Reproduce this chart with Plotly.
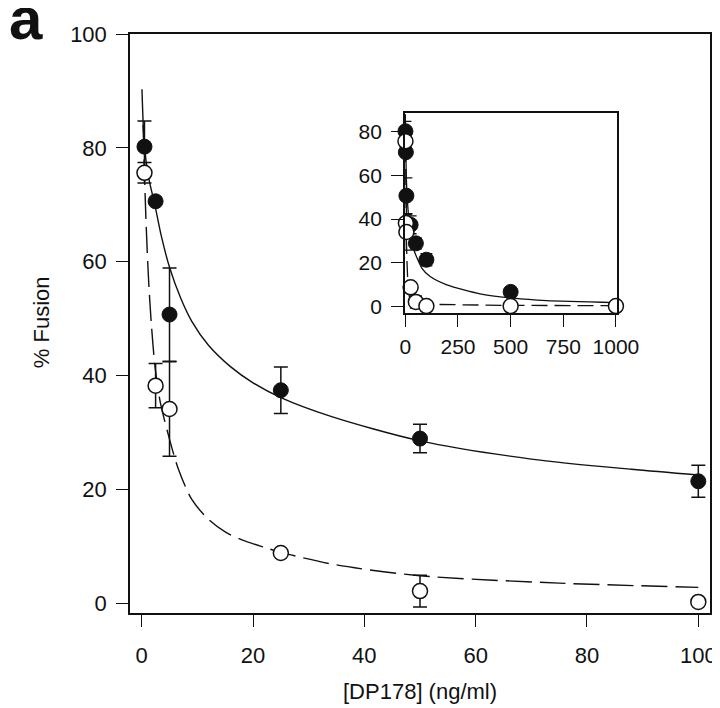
import plotly.graph_objects as go

# ---- data ----
conc = [0.5, 2.5, 5, 25, 50, 100, 500, 1000]          # [DP178] (ng/ml)
fusion_filled = [80.2, 70.6, 50.7, 37.4, 28.9, 21.4, 6.7, None]
err_filled = [4.5, 0, 8.2, 4.1, 2.5, 2.8, 0, 0]
fusion_open = [75.6, 38.2, 34.1, 8.8, 2.1, 0.2, 0.2, 0.2]
err_open = [1.8, 3.9, 8.3, 0, 2.8, 0, 0, 0]

# fitted curves (main panel)
fit_solid_x = [0.05, 0.5, 1.2, 2.4, 3.5, 5, 7, 9, 12, 16, 20, 25, 34, 50, 70, 88, 100]
fit_solid_y = [90.3, 80.2, 75.0, 69.8, 64.6, 59.0, 53.6, 49.5, 45.3, 41.5, 38.7, 36.1, 32.8, 28.5, 25.3, 23.5, 22.5]
fit_dash_x = [0.25, 0.5, 0.8, 1.2, 1.7, 2.4, 3.3, 4.8, 6.6, 9, 12, 15, 18, 22, 25, 35, 50, 75, 100]
fit_dash_y = [84.0, 75.5, 66.5, 57.5, 49.5, 41.5, 35.5, 29.5, 23.5, 18.2, 14.7, 12.5, 11.1, 9.8, 8.9, 6.7, 4.8, 3.5, 2.75]

# fitted curves (inset)
inset_solid_x = [0.05, 0.5, 2.5, 5, 10, 24, 40, 79, 118, 197, 355, 513, 671, 1000]
inset_solid_y = [88.0, 80.0, 70.0, 58.0, 48.0, 33.0, 26.0, 17.5, 13.7, 9.9, 5.8, 3.8, 2.7, 1.8]
inset_dash_x = [0.25, 0.5, 1.5, 2.5, 5, 8, 13, 20, 40, 100, 250, 500, 1000]
inset_dash_y = [84.0, 75.5, 55.0, 42.0, 30.0, 20.0, 8.0, 4.0, 2.0, 1.0, 0.7, 0.5, 0.4]

main_ticks = [0, 20, 40, 60, 80, 100]
inset_xticks = [0, 250, 500, 750, 1000]
inset_yticks = [0, 20, 40, 60, 80]

FONT = "Liberation Sans, Arial, Helvetica, sans-serif"
BLACK = "#111111"

# subset for main panel (x <= 100)
idx = [i for i, c in enumerate(conc) if c <= 100]
m_conc = [conc[i] for i in idx]
m_filled = [fusion_filled[i] for i in idx]
m_err_f = [err_filled[i] for i in idx]
m_open = [fusion_open[i] for i in idx]
m_err_o = [err_open[i] for i in idx]

fig = go.Figure()

# ---- main panel ----
fig.add_trace(go.Scatter(x=fit_solid_x, y=fit_solid_y, mode="lines",
                         line=dict(color=BLACK, width=1.4, shape="spline", smoothing=0.8),
                         xaxis="x", yaxis="y", hoverinfo="skip"))
fig.add_trace(go.Scatter(x=fit_dash_x, y=fit_dash_y, mode="lines",
                         line=dict(color=BLACK, width=1.4, dash="26px,8px", shape="spline", smoothing=0.8),
                         xaxis="x", yaxis="y", hoverinfo="skip"))
fig.add_trace(go.Scatter(x=m_conc, y=m_filled, mode="markers",
                         marker=dict(size=15, color=BLACK, line=dict(color=BLACK, width=1)),
                         error_y=dict(type="data", array=m_err_f, visible=True, color=BLACK, thickness=1.5, width=7),
                         cliponaxis=False, xaxis="x", yaxis="y"))
fig.add_trace(go.Scatter(x=m_conc, y=m_open, mode="markers",
                         marker=dict(size=15, color="white", line=dict(color=BLACK, width=1.5)),
                         error_y=dict(type="data", array=m_err_o, visible=True, color=BLACK, thickness=1.5, width=7),
                         cliponaxis=False, xaxis="x", yaxis="y"))

# ---- inset ----
fig.add_trace(go.Scatter(x=inset_solid_x, y=inset_solid_y, mode="lines",
                         line=dict(color=BLACK, width=1.3, shape="spline", smoothing=0.6),
                         xaxis="x2", yaxis="y2", hoverinfo="skip"))
fig.add_trace(go.Scatter(x=inset_dash_x, y=inset_dash_y, mode="lines",
                         line=dict(color=BLACK, width=1.3, dash="16px,7px"),
                         xaxis="x2", yaxis="y2", hoverinfo="skip"))
fig.add_trace(go.Scatter(x=conc, y=fusion_filled, mode="markers",
                         marker=dict(size=15, color=BLACK, line=dict(color=BLACK, width=1)),
                         error_y=dict(type="data", array=err_filled, visible=True, color=BLACK, thickness=1.3, width=6),
                         cliponaxis=False, xaxis="x2", yaxis="y2"))
fig.add_trace(go.Scatter(x=conc, y=fusion_open, mode="markers",
                         marker=dict(size=15, color="white", line=dict(color=BLACK, width=1.5)),
                         error_y=dict(type="data", array=err_open, visible=True, color=BLACK, thickness=1.3, width=6),
                         cliponaxis=False, xaxis="x2", yaxis="y2"))

axis_common = dict(showgrid=False, zeroline=False, showline=True, mirror=True, automargin=False,
                   linecolor=BLACK, linewidth=1.5, ticks="outside", ticklen=12,
                   tickwidth=1.3, tickcolor=BLACK, tickfont=dict(family=FONT, size=22, color=BLACK))

# the page body adds an 8px offset, so the figure is 712x700
fig.update_layout(
    width=712, height=700,
    margin=dict(l=122, r=10, t=26, b=94.5),
    paper_bgcolor="white", plot_bgcolor="white",
    showlegend=False,
    xaxis=dict(axis_common, range=[-2.1, 102.1], tickvals=main_ticks, domain=[0, 1],
               anchor="y", ticklabelstandoff=10),
    yaxis=dict(axis_common, range=[-1.75, 100], tickvals=main_ticks, domain=[0, 1],
               anchor="x", ticklabelstandoff=5),
    xaxis2=dict(axis_common, range=[-2, 1006], tickvals=inset_xticks, domain=[0.474, 0.840],
                anchor="y2", ticklabelstandoff=2,
                tickfont=dict(family=FONT, size=21, color=BLACK)),
    yaxis2=dict(axis_common, range=[-3.0, 88.4], tickvals=inset_yticks, domain=[0.518, 0.863],
                anchor="x2", ticklabelstandoff=5,
                tickfont=dict(family=FONT, size=21, color=BLACK)),
    annotations=[
        dict(text="[DP178] (ng/ml)", xref="paper", yref="paper", x=0.5, y=-0.1355,
             xanchor="center", yanchor="middle", showarrow=False,
             font=dict(family=FONT, size=22, color=BLACK)),
        dict(text="% Fusion", xref="paper", yref="paper", x=-0.152, y=0.502,
             xanchor="center", yanchor="middle", textangle=-90, showarrow=False,
             font=dict(family=FONT, size=22, color=BLACK)),
        dict(text="<b>a</b>", xref="paper", yref="paper", x=-0.179, y=1.027,
             xanchor="center", yanchor="middle", showarrow=False,
             font=dict(family=FONT, size=60, color=BLACK)),
    ],
)

fig.write_html("out.html")
